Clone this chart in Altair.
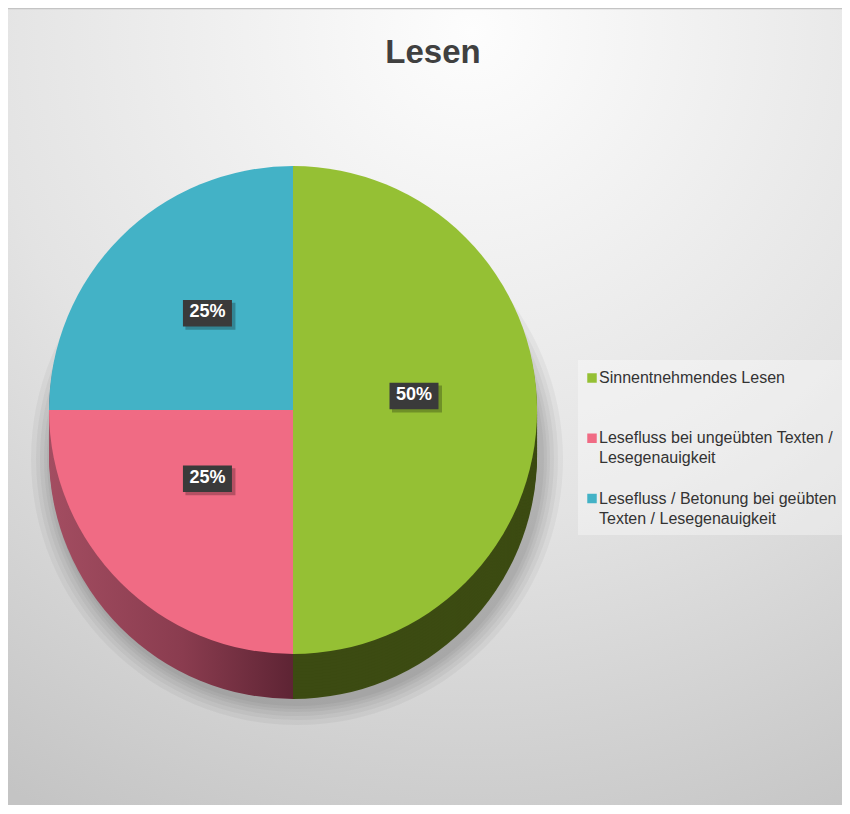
import math
import altair as alt
import pandas as pd

# ---- data ----
categories = ["Sinnentnehmendes Lesen",
              "Lesefluss bei ungeübten Texten / Lesegenauigkeit",
              "Lesefluss / Betonung bei geübten Texten / Lesegenauigkeit"]
legend_text = ["Sinnentnehmendes Lesen",
               "Lesefluss bei ungeübten Texten /\nLesegenauigkeit",
               "Lesefluss / Betonung bei geübten\nTexten / Lesegenauigkeit"]
values = [50, 25, 25]
pct_labels = ["50%", "25%", "25%"]
slice_order = [0, 1, 2]
top_colors = ["#95c034", "#f06b84", "#43b2c6"]
title_text = "Lesen"

df = pd.DataFrame({"cat": categories, "value": values, "label": pct_labels,
                   "order": slice_order, "legend": legend_text})
one = pd.DataFrame({"k": [0]})

# ---- layout ----
W, H = 834, 797
CX, CY, R, DEPTH = 285, 402, 244, 45
SANS = "Liberation Sans, Arial, sans-serif"

color_scale = alt.Scale(domain=categories, range=top_colors)


def pie_base():
    return (alt.Chart(df)
            .transform_window(v1="sum(value)", sort=[alt.SortField("order")], frame=[None, 0])
            .transform_calculate(v0="datum.v1 - datum.value",
                                 lx="sin((datum.v1 - datum.value / 2) * PI / 50)",
                                 ly="-cos((datum.v1 - datum.value / 2) * PI / 50)"))


theta = alt.Theta("v0:Q", scale=alt.Scale(domain=[0, 100]))
theta2 = alt.Theta2("v1:Q")

layers = []

# background with gradient
bg_grad = alt.Gradient(gradient="radial",
                       stops=[alt.GradientStop(color="#fdfdfd", offset=0),
                              alt.GradientStop(color="#e3e3e3", offset=0.55),
                              alt.GradientStop(color="#c4c4c4", offset=1)],
                       x1=0.55, y1=0.05, r1=0, x2=0.55, y2=0.05, r2=1.05)
layers.append(alt.Chart(one).mark_rect(fill=bg_grad, stroke="#c4c4c4", strokeWidth=1.5).encode(
    x=alt.value(-2), x2=alt.value(W + 10), y=alt.value(0.5), y2=alt.value(H + 10)))

# soft shadow under the pie
for rr in [22, 17, 13, 9, 6, 3]:
    layers.append(pie_base().mark_arc(fill="#000000", opacity=0.04, radius=R + rr).encode(
        theta=theta, theta2=theta2, x=alt.value(CX + 4), y=alt.value(CY + DEPTH + 4)))

# 3D side (stacked shifted copies)
pink_side = alt.Gradient(gradient="linear",
                         stops=[alt.GradientStop(color="#a34d61", offset=0),
                                alt.GradientStop(color="#8a3c4f", offset=0.55),
                                alt.GradientStop(color="#5e2434", offset=1)],
                         x1=0, y1=0, x2=1, y2=0)
side_fills = {0: "#3c4b12", 1: pink_side, 2: "#a04b5f"}
for d in range(DEPTH, 0, -3):
    for k in [2, 1, 0]:
        layers.append(pie_base().transform_filter(f"datum.order == {k}")
                      .mark_arc(fill=side_fills[k], radius=R)
                      .encode(theta=theta, theta2=theta2, x=alt.value(CX), y=alt.value(CY + d)))

# top surface
layers.append(pie_base().mark_arc(radius=R).encode(
    theta=theta, theta2=theta2,
    color=alt.Color("cat:N", scale=color_scale, legend=None),
    x=alt.value(CX), y=alt.value(CY)))

# data labels
lab_x = alt.X("lx:Q", scale=alt.Scale(domain=[-1, 1], range=[CX - 121, CX + 121]), axis=None)
lab_y = alt.Y("ly:Q", scale=alt.Scale(domain=[-1, 1], range=[CY - 14 - 117, CY - 14 + 117]), axis=None)
box = "M-1,-0.54H1V0.54H-1Z"
layers.append(pie_base().mark_point(shape=box, size=2500, filled=True, fill="#000000",
                                    opacity=0.25, strokeWidth=0, xOffset=3, yOffset=3)
              .encode(x=lab_x, y=lab_y))
layers.append(pie_base().mark_point(shape=box, size=2401, filled=True, fill="#3a3a3a",
                                    opacity=1, strokeWidth=0)
              .encode(x=lab_x, y=lab_y))
layers.append(pie_base().mark_text(font=SANS, fontSize=18, fontWeight="bold", color="white",
                                   baseline="middle", align="center", dy=-1)
              .encode(x=lab_x, y=lab_y, text="label:N"))

# legend
layers.append(alt.Chart(one).mark_rect(fill="#ffffff", opacity=0.35).encode(
    x=alt.value(570), x2=alt.value(W + 10), y=alt.value(352), y2=alt.value(527)))
leg_y = alt.Y("order:Q", scale=alt.Scale(domain=[0, 2], range=[370, 490.5]), axis=None)
layers.append(alt.Chart(df).mark_square(size=90, opacity=1, filled=True).encode(
    x=alt.value(584), y=leg_y,
    color=alt.Color("cat:N", scale=color_scale, legend=None)))
layers.append(alt.Chart(df).mark_text(font=SANS, fontSize=16, color="#333333", align="left",
                                      baseline="top", lineBreak="\n", lineHeight=20, dy=-8)
              .encode(x=alt.value(591), y=leg_y, text="legend:N"))

# title
layers.append(alt.Chart(one).mark_text(font=SANS, fontSize=33, fontWeight="bold",
                                       color="#404040", align="center", baseline="alphabetic")
              .encode(x=alt.value(425), y=alt.value(55), text=alt.value(title_text)))

chart = (alt.layer(*layers)
         .resolve_scale(x="independent", y="independent", color="shared")
         .properties(width=W, height=H, autosize=alt.AutoSizeParams(type="none"), padding=0)
         .configure_view(stroke=None))

chart.save("out.html", embed_options={"renderer": "svg", "actions": False})
